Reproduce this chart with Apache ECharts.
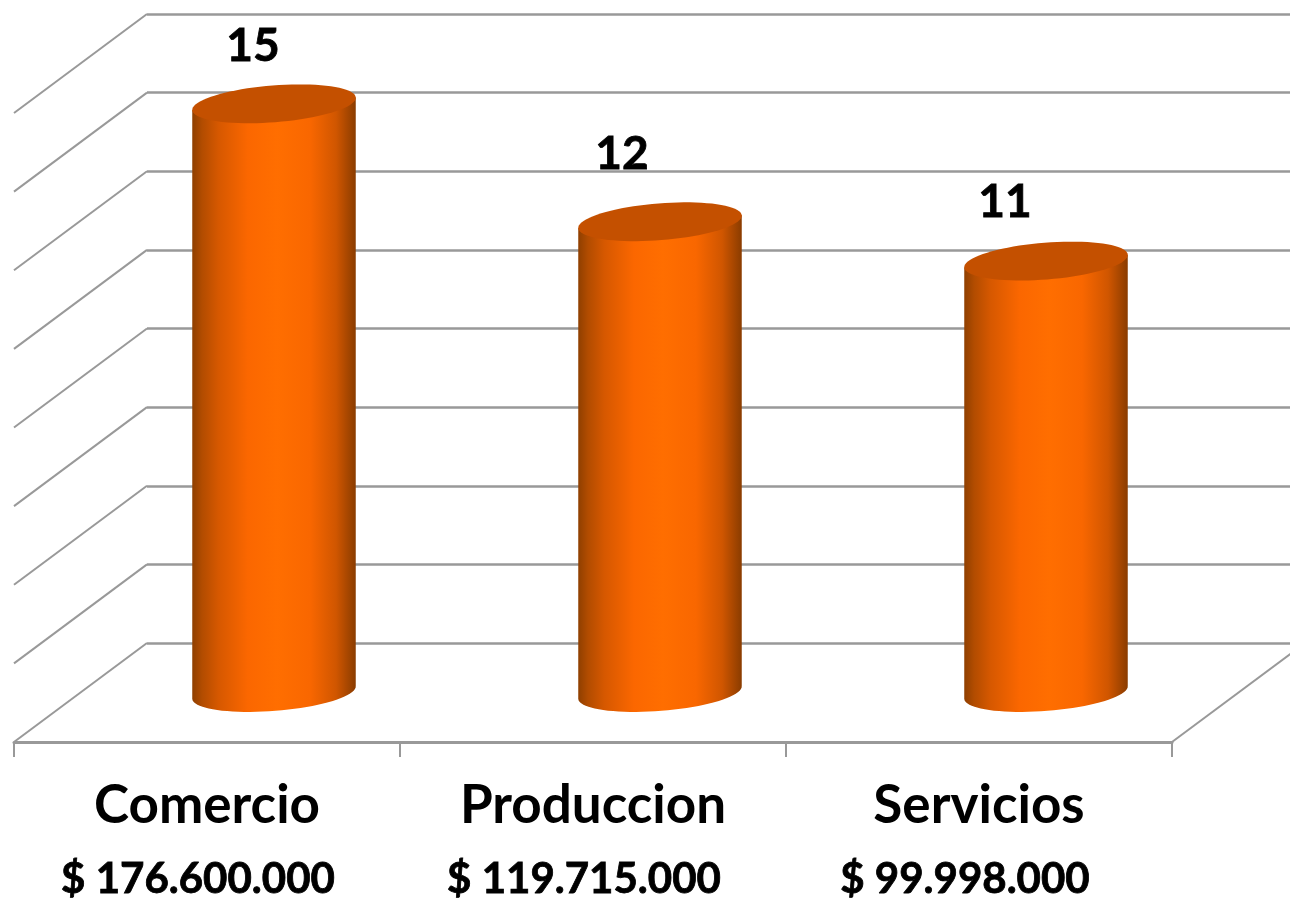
<!DOCTYPE html>
<html><head><meta charset="utf-8">
<style>html,body{margin:0;padding:0;background:#fff}#c{width:1290px;height:899px}</style>
<script src="https://cdn.jsdelivr.net/npm/echarts@6/dist/echarts.min.js"></script>
</head><body><div id="c"></div>
<script>
const categories = ['Comercio','Produccion','Servicios'];
const values = [15,12,11];
const amounts = ['$ 176.600.000','$ 119.715.000','$ 99.998.000'];
const yTicks = [0,2,4,6,8,10,12,14,16];

// layout of the pseudo-3D box (pixels), separate from data
const DX = 133, DY = 99;
const valueLabelShift = [[-21,-58],[-38,-68],[-41,-59]];
const amountShift = [-9,-9,-14];
const FONT = 'Lato, "Open Sans", sans-serif';
const GREY = '#999999';
const RX = 82, RY = 18.4, TILT = -4.5*Math.PI/180;

function ell(cx, cy, from, to, n){
  const pts=[];
  for(let i=0;i<=n;i++){
    const t=from+(to-from)*i/n;
    const x=RX*Math.cos(t), y=RY*Math.sin(t);
    pts.push([cx+x*Math.cos(TILT)-y*Math.sin(TILT), cy+x*Math.sin(TILT)+y*Math.cos(TILT)]);
  }
  return pts;
}
const bodyGrad = {type:'linear',x:0,y:0,x2:1,y2:0,colorStops:[
  {offset:0,color:'#8f3f00'},{offset:0.06,color:'#b24c00'},{offset:0.16,color:'#d65800'},
  {offset:0.34,color:'#fb6700'},{offset:0.52,color:'#ff6e00'},{offset:0.72,color:'#f96700'},
  {offset:0.88,color:'#d05600'},{offset:1,color:'#8a3c00'}]};

function renderCyl(params, api){
  const i = params.dataIndex;
  const top = api.coord([i, api.value(1)]);
  const base = api.coord([i, 0]);
  const cx = top[0]+DX/2+0.5, ty = top[1]+DY/2+1, by = base[1]+DY/2;
  const lowArc = ell(cx,by,Math.PI,0,40);
  const shift = valueLabelShift[i];
  return {type:'group',children:[
    {type:'polygon',shape:{points:lowArc.concat([[cx+RX*Math.cos(TILT),ty+RX*Math.sin(TILT)],[cx-RX*Math.cos(TILT),ty-RX*Math.sin(TILT)]])},style:{fill:bodyGrad}},
    {type:'polygon',shape:{points:ell(cx,ty,0,2*Math.PI,80)},style:{fill:'#c45000'}},
    {type:'text',style:{x:cx+shift[0],y:ty+shift[1],text:String(api.value(1)),fill:'#000',font:'bold 46px '+FONT,align:'center',verticalAlign:'middle',stroke:'#000',lineWidth:0.8}}
  ]};
}
function renderWall(params, api){
  const cs = params.coordSys;
  const y = api.coord([0, api.value(1)])[1];
  return {type:'line',shape:{x1:cs.x+DX,y1:y,x2:cs.x,y2:y+DY},style:{stroke:GREY,lineWidth:2}};
}
function renderFloorEdge(params, api){
  const cs = params.coordSys;
  const y = api.coord([0, api.value(1)])[1];
  return {type:'line',shape:{x1:cs.x+cs.width,y1:y+DY,x2:cs.x+cs.width+DX,y2:y},style:{stroke:GREY,lineWidth:2}};
}
function renderAmount(params, api){
  const i = params.dataIndex;
  const p = api.coord([i, 0]);
  return {type:'text',style:{x:p[0]+amountShift[i],y:p[1]+236,text:amounts[i],fill:'#000',font:'bold 42px '+FONT,align:'center',verticalAlign:'middle',stroke:'#000',lineWidth:0.8}};
}

const chart = echarts.init(document.getElementById('c'),null,{renderer:'canvas'});
chart.setOption({
  animation:false,
  backgroundColor:'#fff',
  grid:[
    {left:14,width:1158,top:14,height:629},
    {left:147,right:0,top:14,height:629}
  ],
  xAxis:[
    {type:'category',gridIndex:0,data:categories,offset:DY,
     axisLine:{onZero:false,lineStyle:{color:GREY,width:3}},
     axisTick:{show:true,length:15,lineStyle:{color:GREY,width:2}},
     axisLabel:{color:'#000',fontFamily:FONT,fontWeight:'bold',fontSize:53,margin:34,lineHeight:60,interval:0}},
    {type:'category',gridIndex:1,data:categories,show:false}
  ],
  yAxis:[
    {type:'value',gridIndex:0,min:0,max:16,interval:2,show:false},
    {type:'value',gridIndex:1,min:0,max:16,interval:2,
     axisLine:{show:false},axisTick:{show:false},axisLabel:{show:false},
     splitLine:{show:true,lineStyle:{color:GREY,width:2.5}}}
  ],
  series:[
    {type:'custom',xAxisIndex:0,yAxisIndex:0,clip:false,z:1,silent:true,renderItem:renderWall,
     data:yTicks.map(v=>[0,v])},
    {type:'custom',xAxisIndex:0,yAxisIndex:0,clip:false,z:1,silent:true,renderItem:renderFloorEdge,
     data:[[0,0]]},
    {type:'custom',xAxisIndex:0,yAxisIndex:0,clip:false,z:5,silent:true,renderItem:renderCyl,
     data:values.map((v,i)=>[i,v])},
    {type:'custom',xAxisIndex:0,yAxisIndex:0,clip:false,z:5,silent:true,renderItem:renderAmount,
     data:values.map((v,i)=>[i,v])}
  ]
});
</script></body></html>
